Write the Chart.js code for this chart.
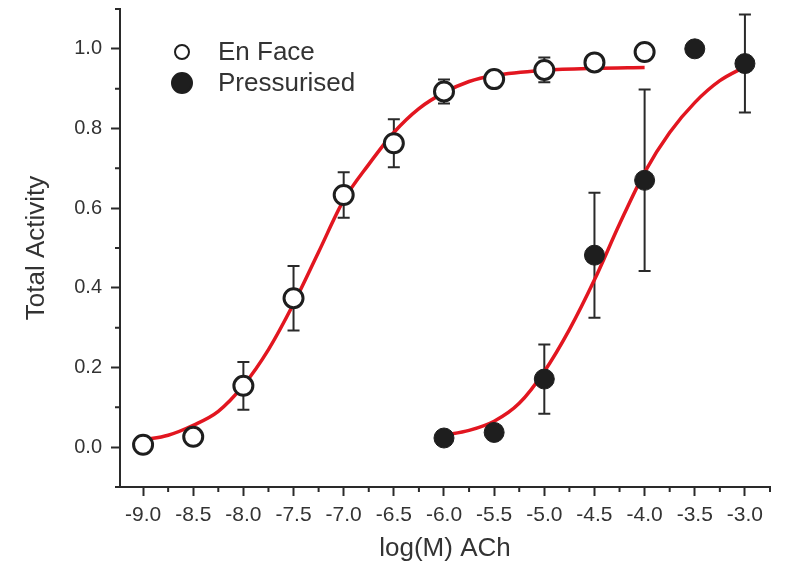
<!DOCTYPE html>
<html lang="en">
  <head>
    <meta charset="UTF-8" />
    <title>Total Activity vs log(M) ACh</title>
    <script src="https://cdn.jsdelivr.net/npm/chart.js"></script>
    <style>
      body { margin: 0; background: #fff; }
    </style>
  </head>
  <body>
    <canvas id="c" width="785" height="566"></canvas>
    <script>
      // values
      const xTicks = [-9.0, -8.5, -8.0, -7.5, -7.0, -6.5, -6.0, -5.5, -5.0, -4.5, -4.0, -3.5, -3.0];
      const yTicks = [0.0, 0.2, 0.4, 0.6, 0.8, 1.0];

      const enFaceX = [-9.0, -8.5, -8.0, -7.5, -7.0, -6.5, -6.0, -5.5, -5.0, -4.5, -4.0];
      const enFaceY = [0.006, 0.026, 0.154, 0.374, 0.633, 0.763, 0.893, 0.924, 0.947, 0.966, 0.992];
      const enFaceErr = [0, 0, 0.06, 0.081, 0.057, 0.06, 0.03, 0.015, 0.031, 0.01, 0.01];

      const pressX = [-6.0, -5.5, -5.0, -4.5, -4.0, -3.5, -3.0];
      const pressY = [0.023, 0.037, 0.171, 0.482, 0.67, 1.0, 0.963];
      const pressErr = [0.01, 0.01, 0.087, 0.157, 0.228, 0.01, 0.123];

      // fitted curves
      const enFaceFitX = [-9.0, -8.75, -8.5, -8.25, -8.0, -7.75, -7.5, -7.25, -7.0, -6.75, -6.5, -6.25, -6.0, -5.75, -5.5, -5.0, -4.5, -4.0];
      const enFaceFitY = [0.018, 0.03, 0.055, 0.09, 0.155, 0.245, 0.36, 0.49, 0.62, 0.71, 0.79, 0.85, 0.89, 0.918, 0.933, 0.946, 0.951, 0.953];
      const pressFitX = [-6.0, -5.75, -5.5, -5.25, -5.0, -4.75, -4.5, -4.25, -4.0, -3.75, -3.5, -3.25, -3.0];
      const pressFitY = [0.03, 0.042, 0.065, 0.11, 0.19, 0.295, 0.42, 0.56, 0.69, 0.79, 0.865, 0.92, 0.955];

      const font = "'Liberation Sans', Arial, sans-serif";
      const ink = "#2a2a2a";
      const red = "rgb(226, 22, 32)";

      const pts = (xs, ys) => xs.map((x, i) => ({ x: x, y: ys[i] }));

      const errorBars = {
        id: "errorBars",
        beforeDatasetsDraw(chart) {
          const { ctx, scales } = chart;
          ctx.save();
          ctx.strokeStyle = ink;
          ctx.lineWidth = 2;
          [[enFaceX, enFaceY, enFaceErr], [pressX, pressY, pressErr]].forEach(([xs, ys, es]) => {
            xs.forEach((x, i) => {
              if (!es[i]) return;
              const px = scales.x.getPixelForValue(x);
              const top = scales.y.getPixelForValue(ys[i] + es[i]);
              const bot = scales.y.getPixelForValue(ys[i] - es[i]);
              ctx.beginPath();
              ctx.moveTo(px, top);
              ctx.lineTo(px, bot);
              ctx.moveTo(px - 6, top);
              ctx.lineTo(px + 6, top);
              ctx.moveTo(px - 6, bot);
              ctx.lineTo(px + 6, bot);
              ctx.stroke();
            });
          });
          ctx.restore();
        },
      };

      const minorTicks = {
        id: "minorTicks",
        afterDraw(chart) {
          const { ctx, scales, chartArea } = chart;
          ctx.save();
          ctx.strokeStyle = ink;
          ctx.lineWidth = 2;
          ctx.beginPath();
          const xm = xTicks.slice(1).map((v, i) => (v + xTicks[i]) / 2).concat([-2.75]);
          xm.forEach((v) => {
            const px = scales.x.getPixelForValue(v);
            ctx.moveTo(px, chartArea.bottom);
            ctx.lineTo(px, chartArea.bottom + 5);
          });
          const ym = [-0.1].concat(yTicks.map((v) => v + 0.1));
          ym.forEach((v) => {
            const py = scales.y.getPixelForValue(v);
            ctx.moveTo(chartArea.left, py);
            ctx.lineTo(chartArea.left - 5, py);
          });
          ctx.stroke();
          ctx.restore();
        },
      };

      const legendBox = {
        id: "legendBox",
        afterDraw(chart) {
          const { ctx } = chart;
          ctx.save();
          ctx.font = "26px " + font;
          ctx.textBaseline = "middle";
          const rows = [
            { ds: chart.data.datasets[0], y: 52, r: 7 },
            { ds: chart.data.datasets[1], y: 83, r: 10 },
          ];
          rows.forEach((row) => {
            ctx.beginPath();
            ctx.arc(182, row.y, row.r, 0, Math.PI * 2);
            ctx.fillStyle = row.ds.backgroundColor;
            ctx.fill();
            ctx.lineWidth = 2;
            ctx.strokeStyle = row.ds.borderColor;
            ctx.stroke();
            ctx.fillStyle = "#333";
            ctx.fillText(row.ds.label, 218, row.y + 1);
          });
          ctx.restore();
        },
      };

      new Chart(document.getElementById("c"), {
        type: "scatter",
        data: {
          datasets: [
            {
              label: "En Face",
              data: pts(enFaceX, enFaceY),
              pointRadius: 9.5,
              pointHoverRadius: 9.5,
              borderWidth: 3,
              borderColor: "#1e1e1e",
              backgroundColor: "#ffffff",
              order: 0,
            },
            {
              label: "Pressurised",
              data: pts(pressX, pressY),
              pointRadius: 10,
              pointHoverRadius: 10,
              borderWidth: 1,
              borderColor: "#1e1e1e",
              backgroundColor: "#1e1e1e",
              order: 0,
            },
            {
              label: "En Face fit",
              data: pts(enFaceFitX, enFaceFitY),
              showLine: true,
              pointRadius: 0,
              borderColor: red,
              borderWidth: 3.5,
              cubicInterpolationMode: "monotone",
              order: 2,
            },
            {
              label: "Pressurised fit",
              data: pts(pressFitX, pressFitY),
              showLine: true,
              pointRadius: 0,
              borderColor: red,
              borderWidth: 3.5,
              cubicInterpolationMode: "monotone",
              order: 2,
            },
          ],
        },
        options: {
          responsive: false,
          animation: false,
          layout: { autoPadding: false, padding: { top: 9, right: 15, left: 0, bottom: 0 } },
          plugins: { legend: { display: false }, tooltip: { enabled: false } },
          scales: {
            x: {
              type: "linear",
              min: -9.23,
              max: -2.75,
              afterBuildTicks: (s) => { s.ticks = xTicks.map((v) => ({ value: v })); },
              afterFit: (s) => { s.height = 79; },
              ticks: {
                callback: (v) => v.toFixed(1),
                autoSkip: false,
                maxRotation: 0,
                padding: 7,
                color: "#333",
                font: { family: font, size: 21 },
              },
              grid: { drawOnChartArea: false, tickLength: 9, tickWidth: 2, tickColor: ink },
              border: { display: true, width: 2, color: ink },
              title: {
                display: true,
                text: "log(M) ACh",
                color: "#333",
                font: { family: font, size: 26 },
                padding: { top: 0, bottom: 2 },
              },
            },
            y: {
              min: -0.1,
              max: 1.1,
              afterBuildTicks: (s) => { s.ticks = yTicks.map((v) => ({ value: v })); },
              afterFit: (s) => { s.width = 120; s.paddingTop = 0; s.paddingBottom = 0; },
              ticks: {
                callback: (v) => v.toFixed(1),
                padding: 9,
                color: "#333",
                font: { family: font, size: 20 },
              },
              grid: { drawOnChartArea: false, tickLength: 9, tickWidth: 2, tickColor: ink },
              border: { display: true, width: 2, color: ink },
              title: {
                display: true,
                text: "Total Activity",
                color: "#333",
                font: { family: font, size: 26 },
                padding: { top: 21, bottom: 0 },
              },
            },
          },
        },
        plugins: [errorBars, minorTicks, legendBox],
      });
    </script>
  </body>
</html>
